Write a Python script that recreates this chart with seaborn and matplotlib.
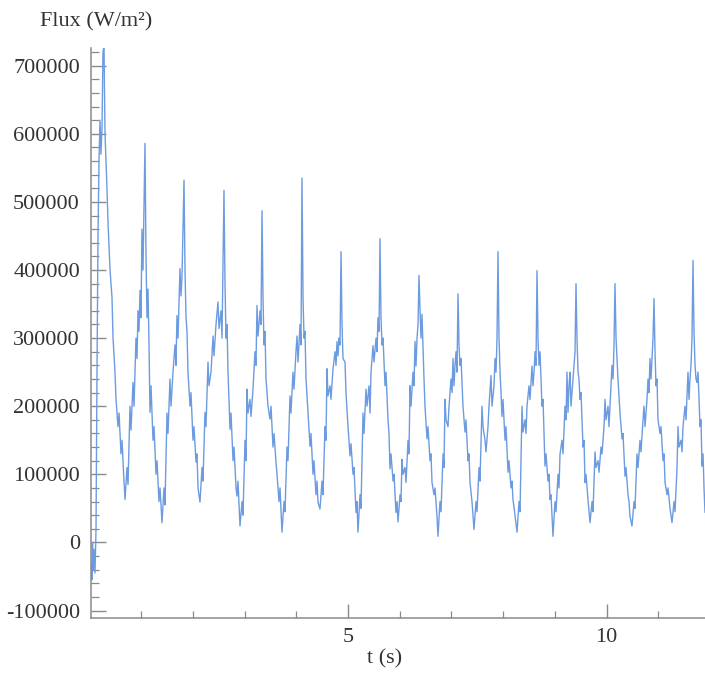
import matplotlib
matplotlib.use("Agg")
import matplotlib.pyplot as plt
from matplotlib.ticker import MultipleLocator, FixedLocator, FuncFormatter
import seaborn as sns
import pandas as pd

# ---- data ----
t_s = [
    0.029, 0.048, 0.058, 0.068, 0.087, 0.106, 0.126, 0.145, 0.164, 0.184, 0.203, 0.222, 0.242, 0.261, 0.280,
    0.300, 0.319, 0.338, 0.358, 0.397, 0.435, 0.455, 0.493, 0.513, 0.551, 0.571, 0.609, 0.629, 0.667, 0.687,
    0.725, 0.745, 0.783, 0.803, 0.841, 0.861, 0.899, 0.919, 0.938, 0.957, 0.977, 0.996, 1.015, 1.035, 1.073,
    1.093, 1.112, 1.132, 1.151, 1.170, 1.190, 1.228, 1.248, 1.286, 1.306, 1.344, 1.364, 1.402,
    1.441, 1.460, 1.499, 1.518, 1.557, 1.576, 1.615, 1.654, 1.673, 1.692, 1.712, 1.750, 1.770, 1.789, 1.828,
    1.847, 1.867, 1.886, 1.905, 1.944, 1.963, 2.002, 2.021, 2.060, 2.079, 2.099, 2.137,
    2.176, 2.195, 2.234, 2.253, 2.292, 2.311, 2.350, 2.389, 2.408, 2.447, 2.485, 2.505, 2.543, 2.563, 2.601,
    2.621, 2.640, 2.660, 2.679, 2.718, 2.737, 2.776, 2.795, 2.834, 2.853, 2.872, 2.911,
    2.950, 2.969, 3.008, 3.027, 3.046, 3.066, 3.104, 3.124, 3.162, 3.201, 3.220, 3.240, 3.259, 3.298, 3.317,
    3.337, 3.356, 3.375, 3.395, 3.414, 3.453, 3.491, 3.511, 3.549, 3.569, 3.607, 3.627, 3.665, 3.685, 3.723,
    3.762, 3.781, 3.820, 3.839, 3.878, 3.897, 3.936, 3.955, 3.994, 4.014, 4.033, 4.072, 4.091, 4.110,
    4.130, 4.149, 4.168, 4.188, 4.226, 4.265, 4.284, 4.323, 4.342, 4.381, 4.400, 4.420, 4.458,
    4.497, 4.516, 4.555, 4.574, 4.594, 4.613, 4.652, 4.671, 4.710, 4.749, 4.768, 4.787, 4.807, 4.826, 4.845,
    4.865, 4.884, 4.903, 4.942, 4.961, 5.000, 5.039, 5.058, 5.097, 5.116, 5.155, 5.174, 5.193,
    5.232, 5.251, 5.290, 5.309, 5.348, 5.368, 5.406, 5.426, 5.445, 5.484, 5.503, 5.542, 5.561, 5.580, 5.600,
    5.619, 5.638, 5.658, 5.677, 5.716, 5.735, 5.774, 5.793, 5.812, 5.832, 5.871, 5.890, 5.928, 5.948, 5.967,
    6.006, 6.025, 6.044, 6.064, 6.103, 6.122, 6.161, 6.180, 6.199, 6.219, 6.257, 6.277, 6.296, 6.315, 6.335,
    6.354, 6.373, 6.393, 6.412, 6.431, 6.470, 6.489, 6.528, 6.547, 6.586, 6.605, 6.625, 6.663, 6.683, 6.721, 6.741,
    6.779, 6.799, 6.838, 6.857, 6.876, 6.896, 6.934, 6.954, 6.992, 7.012, 7.031, 7.050, 7.070, 7.089, 7.108,
    7.128, 7.147, 7.166, 7.186, 7.224, 7.263, 7.282, 7.321, 7.340, 7.360, 7.398, 7.418, 7.437,
    7.476, 7.495, 7.534, 7.553, 7.592, 7.611, 7.650, 7.669, 7.708, 7.727, 7.766, 7.785, 7.824, 7.843, 7.863,
    7.882, 7.901, 7.921, 7.940, 7.959, 7.979, 7.998, 8.037, 8.056, 8.095, 8.114, 8.153, 8.172, 8.191, 8.230, 8.269,
    8.308, 8.327, 8.366, 8.385, 8.424, 8.443, 8.462, 8.501, 8.520, 8.559, 8.578, 8.598, 8.617, 8.636, 8.656,
    8.675, 8.694, 8.714, 8.752, 8.772, 8.810, 8.830, 8.868, 8.888, 8.907, 8.926, 8.965,
    9.004, 9.023, 9.062, 9.081, 9.101, 9.139, 9.159, 9.197, 9.217, 9.236, 9.255, 9.275, 9.294, 9.313, 9.352,
    9.371, 9.391, 9.410, 9.429, 9.449, 9.468, 9.487, 9.507, 9.545, 9.565, 9.584, 9.603, 9.642, 9.681,
    9.720, 9.739, 9.778, 9.797, 9.836, 9.855, 9.894, 9.913, 9.952, 9.971, 9.990, 10.029, 10.048, 10.087, 10.106,
    10.126, 10.145, 10.164, 10.184, 10.203, 10.222, 10.261, 10.300, 10.319, 10.358, 10.377, 10.416, 10.435,
    10.455, 10.493,
    10.532, 10.551, 10.590, 10.609, 10.648, 10.667, 10.706, 10.725, 10.745, 10.783, 10.803, 10.822, 10.841,
    10.861, 10.880, 10.899, 10.919, 10.938, 10.957, 10.977, 10.996, 11.035, 11.054, 11.093, 11.112, 11.132,
    11.170, 11.190, 11.228, 11.267,
    11.306, 11.325, 11.364, 11.383, 11.402, 11.441, 11.460, 11.480, 11.518, 11.538, 11.576, 11.596, 11.615,
    11.634, 11.654, 11.673, 11.692, 11.712, 11.731, 11.750, 11.770, 11.809, 11.828, 11.847, 11.867, 11.886, 11.905,
]

flux_kw = [
    -30, -55, 0, -40, -10, -45, 20, 250, 450, 560, 620, 570, 610, 720, 730,
    600, 560, 520, 470, 400, 360, 300, 250, 210, 170, 190, 130, 150, 90, 63,
    110, 85, 200, 165, 235, 200, 300, 270, 340, 310, 370, 330, 460, 400, 586,
    420, 330, 372, 290, 191, 230, 150, 170, 100, 120, 60, 80, 29,
    80, 55, 190, 160, 240, 200, 250, 290, 260, 333, 300, 402, 362, 390, 532,
    400, 330, 310, 250, 200, 220, 150, 170, 118, 130, 80, 59,
    110, 90, 191, 170, 265, 230, 250, 303, 274, 320, 353, 314, 340, 300, 517,
    380, 300, 320, 250, 166, 190, 120, 140, 80, 68, 90, 24,
    60, 40, 150, 120, 225, 190, 210, 185, 225, 280, 260, 348, 303, 340, 320,
    487, 360, 290, 310, 240, 200, 181, 200, 140, 160, 118, 100, 60, 80, 15,
    60, 45, 140, 120, 215, 190, 250, 225, 280, 303, 265, 320, 290, 535,
    360, 300, 310, 240, 190, 141, 160, 100, 120, 70, 90, 59, 49,
    90, 70, 170, 150, 255, 215, 230, 210, 255, 280, 260, 295, 274, 300, 290,
    427, 320, 270, 265, 220, 170, 127, 145, 100, 110, 44, 60, 15,
    70, 50, 190, 160, 225, 200, 230, 190, 250, 289, 265, 300, 280, 330, 310,
    446, 330, 290, 300, 230, 250, 180, 160, 108, 130, 90, 100, 44, 60, 30,
    70, 60, 122, 100, 110, 88, 150, 130, 230, 200, 250, 230, 295, 259, 300,
    320, 392, 340, 300, 335, 240, 200, 152, 170, 120, 130, 88, 70, 80, 38, 9,
    60, 45, 130, 110, 210, 180, 170, 200, 240, 220, 270, 230, 260, 280, 250,
    365, 290, 260, 270, 200, 162, 180, 120, 130, 88, 60, 38, 19,
    60, 45, 110, 90, 200, 170, 150, 133, 170, 200, 245, 200, 230, 270, 250,
    300, 427, 300, 250, 221, 185, 210, 150, 170, 103, 120, 80, 90, 63, 40, 15,
    60, 45, 200, 162, 180, 160, 200, 230, 210, 259, 230, 250, 280, 260, 399,
    300, 260, 280, 200, 210, 112, 130, 90, 100, 63, 70, 9,
    60, 45, 100, 80, 130, 150, 130, 200, 180, 250, 191, 230, 250, 200, 240,
    260, 280, 380, 300, 250, 240, 210, 220, 140, 150, 88, 100, 63, 29,
    60, 45, 133, 110, 120, 103, 140, 130, 170, 210, 180, 200, 170, 230, 260,
    240, 290, 380, 300, 270, 240, 190, 152, 160, 97, 110, 70, 60,
    38, 24,
    60, 50, 130, 110, 150, 133, 180, 200, 170, 210, 240, 220, 270,
    240, 270, 300, 358, 280, 230, 240, 180, 160, 170, 120, 130, 88,
    70, 80, 50, 29,
    60, 45, 110, 170, 140, 150, 133, 170, 200, 180, 250, 210, 240,
    260, 300, 414, 310, 260, 240, 235, 250, 170, 180, 112, 130, 80, 44,
]

y_ticks = [-100000, 0, 100000, 200000, 300000, 400000, 500000, 600000, 700000]
x_major_ticks = [5, 10]
x_label = "t (s)"
y_label = "Flux (W/m\u00b2)"

df = pd.DataFrame({"t": t_s, "flux": [v * 1000 for v in flux_kw]})

# ---- figure ----
sns.set_theme(style="white")
plt.rcParams["font.family"] = ["Liberation Serif", "DejaVu Serif"]

fig = plt.figure(figsize=(7.05, 6.74), dpi=100)
ax = fig.add_axes([91 / 705, 56 / 674, 614 / 705, 570 / 674])

sns.lineplot(data=df, x="t", y="flux", ax=ax, sort=False, estimator=None,
             color="#6d9be0", linewidth=1.0)

ax.set_xlim(0.029, 11.905)
ax.set_ylim(-111000, 726000)

ax.spines["top"].set_visible(False)
ax.spines["right"].set_visible(False)
for s in ("left", "bottom"):
    ax.spines[s].set_color("#8a8a8a")
    ax.spines[s].set_linewidth(1.1)

ax.yaxis.set_major_locator(FixedLocator(y_ticks))
ax.yaxis.set_minor_locator(MultipleLocator(20000))
ax.yaxis.set_major_formatter(FuncFormatter(lambda v, p: f"{int(round(v))}"))
ax.xaxis.set_major_locator(FixedLocator(x_major_ticks))
ax.xaxis.set_minor_locator(MultipleLocator(1))
ax.xaxis.set_major_formatter(FuncFormatter(lambda v, p: f"{int(round(v))}"))

ax.tick_params(axis="y", which="both", left=True, right=False)
ax.tick_params(axis="x", which="both", bottom=True, top=False)
ax.tick_params(axis="y", which="major", direction="in", length=11, width=1.0,
               color="#8a8a8a", labelsize=16, labelcolor="#333333", pad=8)
ax.tick_params(axis="y", which="minor", direction="in", length=6, width=0.9,
               color="#8a8a8a")
ax.tick_params(axis="x", which="major", direction="in", length=10, width=1.0,
               color="#8a8a8a", labelsize=16, labelcolor="#333333", pad=7)
ax.tick_params(axis="x", which="minor", direction="in", length=5, width=0.9,
               color="#8a8a8a")
ax.set_xlabel("")
ax.set_ylabel("")
ax.grid(False)

fig.text(40 / 705, 1 - 22 / 674, y_label, fontsize=16, color="#333333",
         ha="left", va="center")
fig.text(385 / 705, 1 - 659 / 674, x_label, fontsize=16, color="#333333",
         ha="center", va="center")

fig.savefig("out.png", dpi=100, facecolor="white")
